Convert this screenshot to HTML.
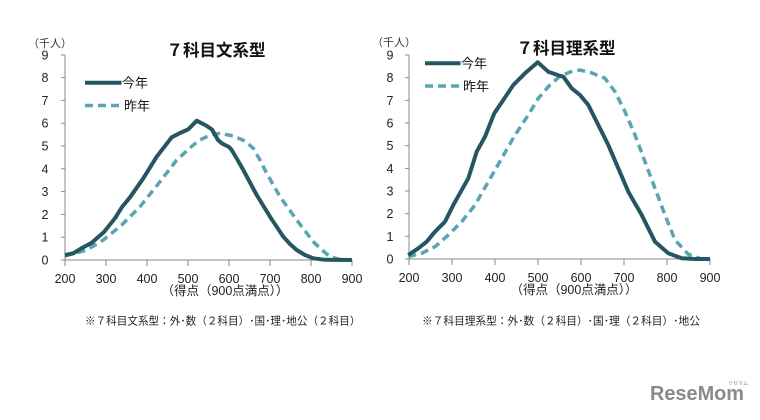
<!DOCTYPE html>
<html><head><meta charset="utf-8"><style>
html,body{margin:0;padding:0;background:#fff;}
svg{display:block;font-family:"Liberation Sans","Noto Sans CJK JP",sans-serif;}
</style></head><body>
<svg width="760" height="420" viewBox="0 0 760 420" xmlns="http://www.w3.org/2000/svg">
<rect width="760" height="420" fill="#fff"/>
<!-- LEFT CHART -->
<g>
<text x="50" y="47" font-size="11" fill="#333" text-anchor="middle">（千人）</text>
<text x="216" y="56" font-size="16.5" font-weight="bold" fill="#111" text-anchor="middle">７科目文系型</text>
<g stroke="#8a8a8a" stroke-width="1">
<line x1="65" y1="55" x2="65" y2="260"/>
<line x1="65" y1="260" x2="352" y2="260"/>
<line x1="61" y1="260" x2="65" y2="260"/><line x1="61" y1="237.2" x2="65" y2="237.2"/><line x1="61" y1="214.4" x2="65" y2="214.4"/><line x1="61" y1="191.6" x2="65" y2="191.6"/><line x1="61" y1="168.8" x2="65" y2="168.8"/><line x1="61" y1="146" x2="65" y2="146"/><line x1="61" y1="123.2" x2="65" y2="123.2"/><line x1="61" y1="100.4" x2="65" y2="100.4"/><line x1="61" y1="77.6" x2="65" y2="77.6"/><line x1="61" y1="55" x2="65" y2="55"/>
<line x1="65" y1="260" x2="65" y2="266"/><line x1="106" y1="260" x2="106" y2="266"/><line x1="147" y1="260" x2="147" y2="266"/><line x1="188" y1="260" x2="188" y2="266"/><line x1="229" y1="260" x2="229" y2="266"/><line x1="270" y1="260" x2="270" y2="266"/><line x1="311" y1="260" x2="311" y2="266"/><line x1="352" y1="260" x2="352" y2="266"/>
</g>
<g font-size="12.5" fill="#222" text-anchor="middle">
<text x="45" y="264.5">0</text><text x="45" y="241.7">1</text><text x="45" y="218.9">2</text><text x="45" y="196.1">3</text><text x="45" y="173.3">4</text><text x="45" y="150.5">5</text><text x="45" y="127.7">6</text><text x="45" y="104.9">7</text><text x="45" y="82.1">8</text><text x="45" y="59.5">9</text>
<text x="65" y="283">200</text><text x="106" y="283">300</text><text x="147" y="283">400</text><text x="188" y="283">500</text><text x="229" y="283">600</text><text x="270" y="283">700</text><text x="311" y="283">800</text><text x="352" y="283">900</text>
</g>
<text x="225" y="295" font-size="12.5" fill="#222" text-anchor="middle">（得点（900点満点））</text>
<polyline fill="none" stroke="#5ba5b2" stroke-width="3.5" stroke-dasharray="8,5" stroke-linejoin="round" points="65,256 86.7,250 103.3,240 121.7,225 140,206.7 160,181.7 176.7,160 193.3,145 200,140 210,135 220,133.3 233.3,136 245,141 253.3,148.3 260,160 266.7,173.3 280,196.7 296.7,220 313.3,241.7 322,250 330,256.7 340,259.5 352,260"/>
<polyline fill="none" stroke="#255661" stroke-width="4" stroke-linejoin="round" points="65,255 73.3,253.3 82,248 91.7,242.7 104,232 115,218.3 122,207 130,197.3 143.3,178.3 156.7,156.7 171.7,137.3 180,133 188.3,129.3 196.7,120.7 206,125.5 212,129.5 218,140 221.7,143.3 229,147 231.7,150 237,159 243.3,170 256.7,195 270,216.7 283.3,236.7 290,244 296.7,250 305,255 313.3,258.3 325,259.8 352,260"/>
<line x1="85" y1="82.7" x2="121.5" y2="82.7" stroke="#255661" stroke-width="4"/>
<line x1="85" y1="105.5" x2="119" y2="105.5" stroke="#5ba5b2" stroke-width="3.5" stroke-dasharray="8,5"/>
<text x="122" y="87.5" font-size="13" fill="#111">今年</text>
<text x="124" y="110.5" font-size="13" fill="#111">昨年</text>
<text x="85" y="324.5" font-size="10.6" fill="#222">※７科目文系型：外･数（２科目）･国･理･地公（２科目）</text>
</g>
<!-- RIGHT CHART -->
<g>
<text x="394" y="46" font-size="11" fill="#333" text-anchor="middle">（千人）</text>
<text x="566" y="54" font-size="16.5" font-weight="bold" fill="#111" text-anchor="middle">７科目理系型</text>
<g stroke="#8a8a8a" stroke-width="1">
<line x1="409" y1="55" x2="409" y2="259"/>
<line x1="409" y1="259" x2="710" y2="259"/>
<line x1="405" y1="259" x2="409" y2="259"/><line x1="405" y1="236.3" x2="409" y2="236.3"/><line x1="405" y1="213.7" x2="409" y2="213.7"/><line x1="405" y1="191" x2="409" y2="191"/><line x1="405" y1="168.4" x2="409" y2="168.4"/><line x1="405" y1="145.7" x2="409" y2="145.7"/><line x1="405" y1="123" x2="409" y2="123"/><line x1="405" y1="100.4" x2="409" y2="100.4"/><line x1="405" y1="77.7" x2="409" y2="77.7"/><line x1="405" y1="55" x2="409" y2="55"/>
<line x1="409" y1="259" x2="409" y2="265"/><line x1="452" y1="259" x2="452" y2="265"/><line x1="495" y1="259" x2="495" y2="265"/><line x1="538" y1="259" x2="538" y2="265"/><line x1="581" y1="259" x2="581" y2="265"/><line x1="624" y1="259" x2="624" y2="265"/><line x1="667" y1="259" x2="667" y2="265"/><line x1="710" y1="259" x2="710" y2="265"/>
</g>
<g font-size="12.5" fill="#222" text-anchor="middle">
<text x="390" y="263.5">0</text><text x="390" y="240.8">1</text><text x="390" y="218.2">2</text><text x="390" y="195.5">3</text><text x="390" y="172.9">4</text><text x="390" y="150.2">5</text><text x="390" y="127.5">6</text><text x="390" y="104.9">7</text><text x="390" y="82.2">8</text><text x="390" y="59.5">9</text>
<text x="409" y="282">200</text><text x="452" y="282">300</text><text x="495" y="282">400</text><text x="538" y="282">500</text><text x="581" y="282">600</text><text x="624" y="282">700</text><text x="667" y="282">800</text><text x="710" y="282">900</text>
</g>
<text x="574" y="294" font-size="12.5" fill="#222" text-anchor="middle">（得点（900点満点））</text>
<polyline fill="none" stroke="#5ba5b2" stroke-width="3.5" stroke-dasharray="8,5" stroke-linejoin="round" points="408.3,256.7 421.7,253.3 435,246.7 448.3,235 461.7,221.7 475,205 488.3,181.7 501.7,158.3 515,135 528.3,115 538.3,98.3 548.3,86.7 559,77 570,72 580,70 592,73 605,78.3 615,91.7 625,111.7 635,135 645,161.7 655,188.3 665,215 675,240 688.3,254.3 701.7,259 710,259"/>
<polyline fill="none" stroke="#255661" stroke-width="4" stroke-linejoin="round" points="408.3,255 418.3,248.3 426.7,241.7 435,231.7 445,221.7 453.3,205 468.3,178.3 476.7,151.7 485,136.7 494.3,113.3 503.3,100 513.3,85 525,73.3 537.7,62.3 548.3,71.7 559,75.5 563.3,76.7 571.7,88.3 580,95 588.3,105 598.3,125 608.3,145 618.3,168.3 628.3,191.7 641.7,215 655,241.7 668.3,253.3 681.7,258.3 695,259 710,259"/>
<line x1="425" y1="63.3" x2="460.5" y2="63.3" stroke="#255661" stroke-width="4"/>
<line x1="425" y1="86" x2="459" y2="86" stroke="#5ba5b2" stroke-width="3.5" stroke-dasharray="8,5"/>
<text x="461" y="68" font-size="13" fill="#111">今年</text>
<text x="463" y="91" font-size="13" fill="#111">昨年</text>
<text x="422" y="324.5" font-size="10.7" fill="#222">※７科目理系型：外･数（２科目）･国･理（２科目）･地公</text>
</g>
<!-- Logo -->
<text x="650" y="400" font-size="20" font-weight="bold" fill="#8a8a8a" textLength="94" lengthAdjust="spacingAndGlyphs">ReseMom</text>
<text x="728" y="385" font-size="5" fill="#8a8a8a">リセマム</text>
</svg>
</body></html>
